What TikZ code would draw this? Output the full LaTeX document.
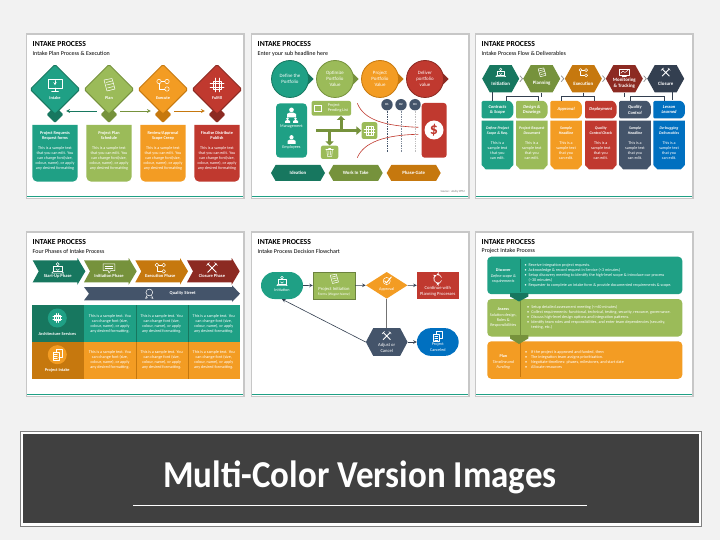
\documentclass[tikz,border=0pt]{standalone}
\usepackage{fontspec}
\setmainfont{Carlito}
\usetikzlibrary{arrows.meta,shapes.geometric,shapes.misc,shapes.symbols}

\definecolor{pagebg}{HTML}{F2F2F2}
\definecolor{bannerbg}{HTML}{404040}
\definecolor{cteal}{HTML}{1FA085}
\definecolor{dteal}{HTML}{17775F}
\definecolor{cgreen}{HTML}{9BBB59}
\definecolor{dgreen}{HTML}{76923C}
\definecolor{corange}{HTML}{F39C23}
\definecolor{dorange}{HTML}{C6780E}
\definecolor{cred}{HTML}{C0392F}
\definecolor{dred}{HTML}{8C2A22}
\definecolor{cnavy}{HTML}{44546A}
\definecolor{dnavy}{HTML}{333F50}
\definecolor{cblue}{HTML}{0070C0}

\tikzset{
    x=1pt, y=-1pt,
    >=stealth,
    whitetext/.style={text=white, align=center, inner sep=0pt, font=\fontsize{4.15}{5}\selectfont},
    boldtext/.style={whitetext, font=\fontsize{4.3}{5}\selectfont\bfseries},
    nodetext/.style={whitetext, font=\fontsize{4.6}{6}\selectfont},
    bullettext/.style={whitetext, align=left, anchor=west, font=\fontsize{4.15}{5}\selectfont},
    iconline/.style={color=white, line width=0.5pt, line cap=round, line join=round},
    hexbox/.style={signal, signal to=east and west, inner sep=0pt, text=white, align=center},
    flowline/.style={->, dnavy, line width=0.6pt},
}

% icons, about 12 wide
\newcommand{\icscreen}{\draw (-7,-6) rectangle (7,3); \draw (0,3) -- (0,6) (-3.5,6) -- (3.5,6);
    \draw[->] (0,-4.5) -- (0,0.5);}
\newcommand{\icdoc}{\draw (-5,-5) -- (3,-6.5) -- (6,4) -- (-2,6) -- cycle; \draw (-3,-2.5) -- (3,-4) (-2.5,0) -- (4,-1.5) (-1.5,3) -- (4.5,1.5);}
\newcommand{\icflow}{\draw (-4,-3.5) circle (2.2) (4,-3.5) circle (2.2) (4,4) circle (2.2);
    \draw (-1.8,-3.5) -- (1.8,-3.5) (-4,-1.3) -- (-4,4) -- (1.8,4);}
\newcommand{\icnet}{\draw (-4,-4) rectangle (4,4); \draw (-7,-2) -- (7,-2) (-7,2) -- (7,2) (-2,-7) -- (-2,7) (2,-7) -- (2,7);}
\newcommand{\iccross}{\draw[line width=0.9pt] (-5,-5) -- (5,5) (5,-5) -- (-5,5); \draw (-6.5,-3) -- (-3,-6.5) (6.5,-3) -- (3,-6.5);}
\newcommand{\iclaptop}{\draw (-5,-2) rectangle (5,4); \draw (-7,6) -- (7,6) -- (5,4) (-7,6) -- (-5,4);
    \draw (0,-4.5) circle (1.8); \draw (-2,1) -- (0,3) -- (2,1);}
\newcommand{\icchat}{\draw (-7,-5) -- (7,-5) -- (7,3) -- (2,3) -- (0,6) -- (-1,3) -- (-7,3) -- cycle; \draw (-4.5,-2.5) -- (4.5,-2.5) (-4.5,0.5) -- (4.5,0.5);}
\newcommand{\icbadge}{\draw (0,-1) circle (4.5); \draw (-3,3) -- (-5,7) -- (-2,6) (3,3) -- (5,7) -- (2,6);}
\newcommand{\iccheck}{\draw (0,0) circle (5.5); \draw[line width=1pt] (-3,0) -- (-0.5,3) -- (7,-6);}
\newcommand{\iccycle}{\draw[->] (-5,-2) arc (200:70:5.5); \draw[->] (5,-2) arc (-20:-110:5.5); \draw[->] (5,2) arc (20:110:5.5); \draw[->] (-5,2) arc (160:250:5.5);}
\newcommand{\icchart}{\draw (-7,-5) rectangle (7,4); \draw (-3,6) -- (3,6) (0,4) -- (0,6); \draw (-5,1) -- (-2,-2) -- (1,0) -- (5,-3);}
\newcommand{\icperson}{\fill (0,-3.5) circle (2.6); \fill (-5,5) -- (-5,1) -- (-2,-0.5) -- (2,-0.5) -- (5,1) -- (5,5) -- cycle;}
\newcommand{\icpages}{\draw (-6,-3) rectangle (2,7); \draw (-2,-3) -- (-2,-7) -- (6,-7) -- (6,3) -- (2,3); \draw (-4,0) -- (0,0) (-4,2.5) -- (0,2.5) (-4,5) -- (0,5);}
\newcommand{\ictrash}{\draw (-4,-4) -- (-3,6) -- (3,6) -- (4,-4); \draw (-5.5,-4) -- (5.5,-4) (-1.5,-6) -- (1.5,-6); \draw (-1.2,-2) -- (-1,4) (1.2,-2) -- (1,4);}
\newcommand{\icgrid}{\draw (-4,-5) rectangle (4,5); \draw (-1.4,-5) -- (-1.4,5) (1.4,-5) -- (1.4,5) (-6,-2) -- (6,-2) (-6,2) -- (6,2);}
\newcommand{\icon}[4][1]{\begin{scope}[shift={(#3,#4)}, scale=#1, iconline]\csname ic#2\endcsname\end{scope}}
\newcommand{\bl}[1][4.2pt]{\makebox[#1][l]{\textbullet}}

% slide background, title and sub headline
\newcommand{\slideback}[4]{
    \fill[black!22] (#1-1.5,#2-1.5) rectangle (#1+217.5,#2+164.5);
    \fill[white] (#1,#2) rectangle (#1+216,#2+163);
    \fill[cteal] (#1,#2+161) rectangle (#1+216,#2+162.5);
    \node[anchor=west, inner sep=0pt, font=\fontsize{7.7}{9}\selectfont\bfseries] (title#1#2) at (#1+5.5,#2+9.3) {#3};
    \node[anchor=west, inner sep=0pt, font=\fontsize{6}{8}\selectfont] (sub#1#2) at (#1+5.5,#2+18.7) {#4};
}

\begin{document}
\begin{tikzpicture}
    \useasboundingbox (0,0) rectangle (720,540);
    \fill[pagebg] (0,0) rectangle (720,540);

    \slideback{27}{35}{INTAKE PROCESS}{Intake Plan Process \& Execution}
    \slideback{252}{35}{INTAKE PROCESS}{Enter your sub headline here}
    \slideback{476}{35}{INTAKE PROCESS}{Intake Process Flow \& Deliverables}
    \slideback{27}{232.5}{INTAKE PROCESS}{Four Phases of Intake Process}
    \slideback{252}{232.5}{INTAKE PROCESS}{Intake Process Decision Flowchart}
    \slideback{476}{232.5}{INTAKE PROCESS}{Project Intake Process}

    % first slide
    \foreach \xpos/\fillc/\darkc/\ico/\tname/\head [count=\i] in {
        55/cteal/dteal/screen/Intake/{Project Requests\\Request forms},
        109/cgreen/dgreen/doc/Plan/{Project Plan\\Schedule},
        163/corange/dorange/flow/Execute/{Review/Approval\\Scope Creep},
        217/cred/dred/net/Fulfill/{Finalise Distribute\\Publish}} {
        \node[diamond, fill=\darkc, rounded corners=1pt, minimum width=17pt, minimum height=17pt, inner sep=0pt] (small\i) at (\xpos,114.5) {};
        \node[diamond, fill=\fillc, draw=\darkc, rounded corners=1.5pt, line width=1pt, minimum width=50pt, minimum height=50pt, inner sep=0pt] (dia\i) at (\xpos,89.3) {};
        \icon{\ico}{\xpos}{85}
        \node[boldtext] (diatext\i) at (\xpos,97.8) {\tname};
        \fill[\fillc] (\xpos-22.7,125) [rounded corners=5pt] -- (\xpos-22.7,181.7) -- (\xpos+22.7,181.7) [sharp corners] -- (\xpos+22.7,125) -- cycle;
        \node[boldtext] (boxhead\i) at (\xpos,135.7) {\head};
        \node[whitetext] (boxtext\i) at (\xpos,158.3) {This is a sample text\\that you can edit. You\\can change font(size,\\colour, name), or apply\\any desired formatting};
    }
    \draw[<-, dteal, line width=0.7pt] ([shift={(2.5pt,3.5pt)}]small1.east) -- ([shift={(-3.5pt,3.5pt)}]small2.west);
    \draw[->, dgreen, line width=0.7pt] ([shift={(2.5pt,3.5pt)}]small2.east) -- ([shift={(-3.5pt,3.5pt)}]small3.west);
    \draw[->, dorange, line width=0.7pt] ([shift={(2.5pt,3.5pt)}]small3.east) -- ([shift={(-3.5pt,3.5pt)}]small4.west);

    % second slide
    \foreach \xpos/\fillc/\darkc/\tname [count=\i] in {
        290/cteal/dteal/{Define the\\Portfolio},
        335/cgreen/dgreen/{Optimize\\Portfolio\\Value},
        380/corange/dorange/{Project\\Portfolio\\Value},
        425/cred/dred/{Deliver\\portfolio\\value}} {
        \fill[\darkc] (\xpos,69) -- (\xpos+13.5,69) -- (\xpos+23.5,79) -- (\xpos+13.5,89) -- (\xpos,89) -- cycle;
        \node[circle, fill=\fillc, draw=\darkc, line width=0.8pt, minimum size=37pt, inner sep=0pt, text=white, align=center, font=\fontsize{4.9}{5.7}\selectfont] (goal\i) at (\xpos,79) {\tname};
    }
    \fill[cteal, rounded corners=4pt] (276,103.3) rectangle (307,157.7);
    \icon[0.9]{person}{291.5}{113}
    \icon[0.5]{person}{287.5}{120.5}
    \icon[0.5]{person}{295.5}{120.5}
    \node[whitetext] (management) at (291.5,126.7) {Management};
    \icon[0.8]{person}{291.5}{140}
    \node[whitetext] (employees) at (291.5,147.3) {Employees};

    \node[fill=cgreen, rounded corners=2pt, minimum width=39.5pt, minimum height=14.7pt, inner sep=0pt] (pending) at (331.3,108.3) {};
    \fill[white] (314,104.8) rectangle (322,111.8);
    \fill[cgreen] (315.2,106) rectangle (320.8,110.6);
    \node[whitetext, align=left] (pendingtext) at (338,108.3) {Project\\Pending List};
    \node[fill=cgreen, rounded corners=2pt, minimum width=15.7pt, minimum height=16.7pt, inner sep=0pt] (gridbox) at (369.5,130.6) {};
    \icon[0.9]{grid}{369.5}{130.6}
    \node[fill=cgreen, rounded corners=2pt, minimum width=17.3pt, minimum height=13.3pt, inner sep=0pt] (trashbox) at (329.6,152.3) {};
    \icon[0.7]{trash}{329.6}{152.3}
    \coordinate (flowstart) at (316,130.6);
    \coordinate (flowup) at (341,130.6);
    \coordinate (flowdown) at (329.6,130.6);
    \draw[-{Triangle[length=5pt,width=8pt]}, dgreen, line width=3.2pt] (flowstart) -- (gridbox.west);
    \draw[-{Triangle[length=4pt,width=8pt]}, dgreen, line width=3pt] (flowup) -- (pending.south -| flowup);
    \draw[-{Triangle[length=4pt,width=8pt]}, dgreen, line width=3pt] (flowdown) -- (trashbox.north);

    \draw[cred, line width=0.6pt] (357.3,103.3) .. controls (364,120) and (385,126) .. (418.3,127.3);
    \draw[cred, line width=0.6pt] (357.3,157.7) .. controls (364,142) and (385,135) .. (418.3,134.3);
    \foreach \xpos/\linec/\tname [count=\i] in {387/cnavy/R1, 401/cnavy!70/R2, 415/black!25/R3} {
        \node[circle, fill=cnavy, minimum size=11.4pt, inner sep=0pt, text=white, font=\fontsize{3}{4}\selectfont\bfseries] (risk\i) at (\xpos,104.7) {\tname};
        \draw[\linec, line width=0.7pt, densely dotted] (risk\i.south) -- (\xpos,151.7);
    }
    \fill[cred, rounded corners=3pt] (421.7,103) rectangle (446.7,157.7);
    \node[circle, fill=white, minimum size=19pt, inner sep=0pt, text=cred, font=\fontsize{16}{16}\selectfont\bfseries] (dollar) at (434,130) {\$};
    \foreach \xpos/\fillc/\tname [count=\i] in {298/dteal/Ideation, 355.7/dgreen/Work In Take, 413.7/dorange/Phase-Gate} {
        \node[hexbox, fill=\fillc, minimum width=54pt, minimum height=16pt, signal pointer angle=120, font=\fontsize{4.8}{6}\selectfont\bfseries] (stage\i) at (\xpos,173) {\tname};
    }
    \node[anchor=east, inner sep=0pt, text=black!55, font=\fontsize{3}{4}\selectfont\itshape] (source) at (465,191.3) {Source : Andry PPM};

    % third slide
    \foreach \xpos/\fillc/\ico/\tname [count=\i] in {
        500.7/dteal/laptop/Initiation,
        541.7/dgreen/doc/Planning,
        583.3/dorange/flow/Execution,
        624.3/dred/chart/{Monitoring\\\& Tracking},
        665.7/dnavy/cross/Closure} {
        \node[hexbox, fill=\fillc, minimum width=37pt, minimum height=27.3pt, signal pointer angle=122] (phase\i) at (\xpos,78.7) {};
        \icon[0.7]{\ico}{\xpos}{72.5}
        \node[boldtext, font=\fontsize{4.9}{5.7}\selectfont\bfseries] (phasetext\i) at (\xpos,83.5) {\tname};
    }
    \foreach \xpos in {521.2,562.5,603.8,645} {
        \draw[black!45, line width=0.7pt] (\xpos-1.3,75.7) -- (\xpos+1.3,78.7) -- (\xpos-1.3,81.7);
    }
    \foreach \xpos/\fillc/\head/\tname [count=\i] in {
        497.5/cteal/{Contracts\\\& Scope}/{Define Project\\Scope \& Req.},
        531.8/cgreen/{Design \&\\Drawings}/{Project Request\\Document},
        566.1/corange/{Approval}/{Sample\\Headline},
        600.8/cred/{Deployment}/{Quality\\Control Check},
        635/cnavy/{Quality\\Control}/{Sample\\Headline},
        669.1/cblue/{Lesson\\Learned}/{De-bugging\\Deliverables}} {
        \fill[\fillc, rounded corners=1.2pt] (\xpos-15.8,101) -- (\xpos+12.8,101) -- (\xpos+15.8,105) -- (\xpos+15.8,114.3) -- (\xpos+12.8,118.3) -- (\xpos-15.8,118.3) -- cycle;
        \node[boldtext, font=\fontsize{4.5}{5.6}\selectfont\bfseries\itshape] (delhead\i) at (\xpos,109.7) {\head};
        \fill[\fillc] (\xpos-15.8,120.7) -- (\xpos+15.8,120.7) -- (\xpos+15.8,165) -- (\xpos+11.8,169.3) -- (\xpos-11.8,169.3) -- (\xpos-15.8,165) -- cycle;
        \node[boldtext, font=\fontsize{3.9}{5}\selectfont\bfseries\itshape] (delsub\i) at (\xpos,130.5) {\tname};
        \node[whitetext] (deltext\i) at (\xpos,150.5) {This is a\\sample text\\that you\\can edit.};
    }
    \coordinate (planjoin) at (541.7,96.7);
    \coordinate (execjoin) at (583.3,96.7);
    \coordinate (monjoin) at (624.3,96.7);
    \draw[dnavy, line width=0.5pt] (492.3,92) -- (492.3,101);
    \draw[dnavy, line width=0.5pt] (phase2.south) -- (planjoin) (506,101) -- (506,96.7) -- (538.3,96.7) -- (538.3,101);
    \draw[dnavy, line width=0.5pt] (phase3.south) -- (execjoin) (561.7,101) -- (561.7,96.7) -- (594.3,96.7) -- (594.3,101);
    \draw[dnavy, line width=0.5pt] (phase4.south) -- (monjoin) (630.7,101) -- (630.7,96.7) -- (664,96.7) -- (664,101);
    \draw[dnavy, line width=0.5pt] (672.3,92) -- (672.3,100);

    % fourth slide
    \foreach \xpos/\fillc/\ico/\tname [count=\i] in {
        32.7/dteal/laptop/Start-Up Phase,
        84/dgreen/chat/Initiation Phase,
        135.3/dorange/flow/Execution Phase,
        187/dred/cross/Closure Phase} {
        \fill[\fillc] (\xpos,260.3) -- (\xpos+44.7,260.3) -- (\xpos+44.7,258) -- (\xpos+52.7,271.3) -- (\xpos+44.7,284.7) -- (\xpos+44.7,282.3) -- (\xpos,282.3) -- (\xpos+6,271.3) -- cycle;
        \icon[0.85]{\ico}{\xpos+25}{268}
        \node[boldtext, font=\fontsize{4.5}{5}\selectfont\bfseries] (start\i) at (\xpos+25,276.4) {\tname};
    }
    \fill[cnavy] (84,287) -- (232,287) -- (232,285.3) -- (240,293.7) -- (232,302) -- (232,300.4) -- (84,300.4) -- (89,293.7) -- cycle;
    \icon[0.75]{badge}{149.3}{293.2}
    \node[boldtext, font=\fontsize{4.5}{5}\selectfont\bfseries] (quality) at (182.7,293.7) {Quality Street};

    \fill[cteal] (84,305.3) rectangle (240,342.3);
    \fill[dteal] (32.3,305.3) rectangle (84,342.3);
    \fill[corange] (84,342.3) rectangle (240,379);
    \fill[dorange] (32.3,342.3) rectangle (84,379);
    \draw[dteal, line width=0.3pt] (135.7,305.3) -- (135.7,342.3) (187.7,305.3) -- (187.7,342.3);
    \draw[dorange, line width=0.3pt] (135.7,342.3) -- (135.7,379) (187.7,342.3) -- (187.7,379);
    \node[circle, fill=cteal, minimum size=19pt, inner sep=0pt] (archcircle) at (57.3,318) {};
    \icon[0.65]{net}{57.3}{318}
    \node[boldtext] (archtext) at (57.3,334) {Architecture Services};
    \node[circle, fill=corange, minimum size=19pt, inner sep=0pt] (intakecircle) at (57.3,354.7) {};
    \icon[0.75]{pages}{57.3}{354.7}
    \node[boldtext] (intaketext) at (57.3,370.3) {Project Intake};
    \foreach \xpos in {110,161.7,213.8} {
        \foreach \ypos in {323.7,360.3} {
            \node[whitetext] at (\xpos,\ypos) {This is a sample text. You\\can change font (size,\\colour, name), or apply\\any desired formatting.};
        }
    }

    % fifth slide
    \node[rounded rectangle, fill=cteal, minimum width=42pt, minimum height=27pt, inner sep=0pt] (initiation) at (282,285.5) {};
    \node[fill=cgreen, draw=cgreen!70!black, line width=0.3pt, minimum width=42pt, minimum height=27.3pt, inner sep=0pt] (forms) at (334,285.4) {};
    \node[diamond, fill=corange, aspect=1.55, minimum width=41.7pt, minimum height=26.7pt, inner sep=0pt] (approval) at (386.7,285.3) {};
    \node[fill=cred, minimum width=41.7pt, minimum height=27.3pt, inner sep=0pt] (planning) at (437.8,285.4) {};
    \node[hexbox, fill=cnavy, minimum width=41.7pt, minimum height=27.7pt, signal pointer angle=124] (adjust) at (386.7,342) {};
    \node[rounded rectangle, fill=cblue, minimum width=41.7pt, minimum height=27.7pt, inner sep=0pt] (cancelled) at (437.8,342) {};
    \draw[flowline] (initiation) -- (forms);
    \draw[flowline] (forms) -- (approval);
    \draw[flowline] (approval) -- (planning);
    \draw[black!55, line width=0.9pt] (approval.south) -- (adjust.north);
    \draw[flowline] (adjust) -- (cancelled);
    \draw[flowline] (adjust.west) -- (initiation.south);
    \icon[0.75]{laptop}{282}{281}
    \node[nodetext, font=\fontsize{4.2}{5.6}\selectfont] (initiationtext) at (282,290.5) {Initiation};
    \icon[0.75]{doc}{334}{279}
    \node[nodetext] (formstext) at (334,291.5) {Project Initiation\\[-1pt]{\fontsize{3.6}{4.5}\selectfont Forms \textit{(Wagon Name)}}};
    \icon[0.65]{check}{386.7}{281}
    \node[nodetext, font=\fontsize{4.2}{5.6}\selectfont] (approvaltext) at (386.7,289.7) {Approval};
    \icon[0.75]{cycle}{437.8}{279}
    \node[nodetext] (planningtext) at (437.8,291.3) {Continue with\\Planning Processes};
    \icon[0.7]{cross}{386.7}{336}
    \node[nodetext] (adjusttext) at (386.7,347.5) {Adjust or\\Cancel};
    \icon[0.75]{pages}{437.8}{336}
    \node[nodetext, font=\fontsize{4.2}{5.6}\selectfont] (cancelledtext) at (437.8,347) {Project\\Canceled};

    % sixth slide
    \foreach \ytop/\fillc/\darkc [count=\i] in {256.7/cteal/dteal, 299/cgreen/dgreen, 341.3/corange/dorange} {
        \fill[\fillc, rounded corners=4pt] (487.3,\ytop) rectangle (682.3,\ytop+37.5);
        \draw[\darkc, line width=0.8pt] (520,\ytop+2) -- (520,\ytop+35.5);
    }
    \fill[dteal] (510,293) -- (528.3,293) -- (528.3,296.5) -- (519,301.5) -- (510,296.5) -- cycle;
    \fill[dgreen] (510,335) -- (528.3,335) -- (528.3,338.5) -- (519,344) -- (510,338.5) -- cycle;
    \node[whitetext] (discover) at (503.3,275.5) {{\bfseries Discover}\\[1pt]\textit{Define scope \&}\\\textit{requirements}};
    \node[whitetext] (assess) at (503.3,317.3) {{\bfseries Assess}\\[1pt]Solution design,\\Roles \&\\Responsibilities};
    \node[whitetext] (plan) at (503.3,361.5) {{\bfseries Plan}\\[1pt]\textit{Timeline and}\\\textit{Funding}};
    \node[bullettext] (discoverlist) at (524.3,275.3) {\bl Receive integration project requests.\\\bl Acknowledge \& record request in Service (<3 minutes)\\\bl Setup discovery meeting to identify the high-level scope \& introduce our process\\\hspace*{4.2pt}(\textasciitilde 30 minutes)\\\bl Requester to complete an intake form \& provide documented requirements \& scope.};
    \node[bullettext] (assesslist) at (527,317.3) {\bl Setup detailed assessment meeting (<=60 minutes)\\\bl Collect requirements: functional, technical, testing, security, resource, governance.\\\bl Discuss high-level design options and integration patterns.\\\bl Identify team roles and responsibilities, and enter team dependencies (security,\\\hspace*{4.2pt}testing, etc.)};
    \node[bullettext] (planlist) at (525,360) {\bl[6pt]If the project is approved and funded, then:\\\bl[6pt]The integration team assigns prioritization.\\\bl[6pt]Negotiate timelines: phases, milestones, and start date\\\bl[6pt]Allocate resources};

    % banner
    \fill[white] (20,431) rectangle (701,526);
    \draw[black!50, line width=0.8pt] (20,431) rectangle (701,526);
    \fill[bannerbg] (23,434) rectangle (699,523.3);
    \node[text=white, inner sep=0pt, anchor=base, xscale=0.92, font=\fontsize{38}{42}\selectfont\bfseries] (banner) at (360,487) {Multi-Color Version Images};
    \coordinate (ruleleft) at (133,505);
    \coordinate (ruleright) at (587,505);
    \draw[white, line width=0.7pt] (ruleleft) -- (ruleright);
\end{tikzpicture}
\end{document}
